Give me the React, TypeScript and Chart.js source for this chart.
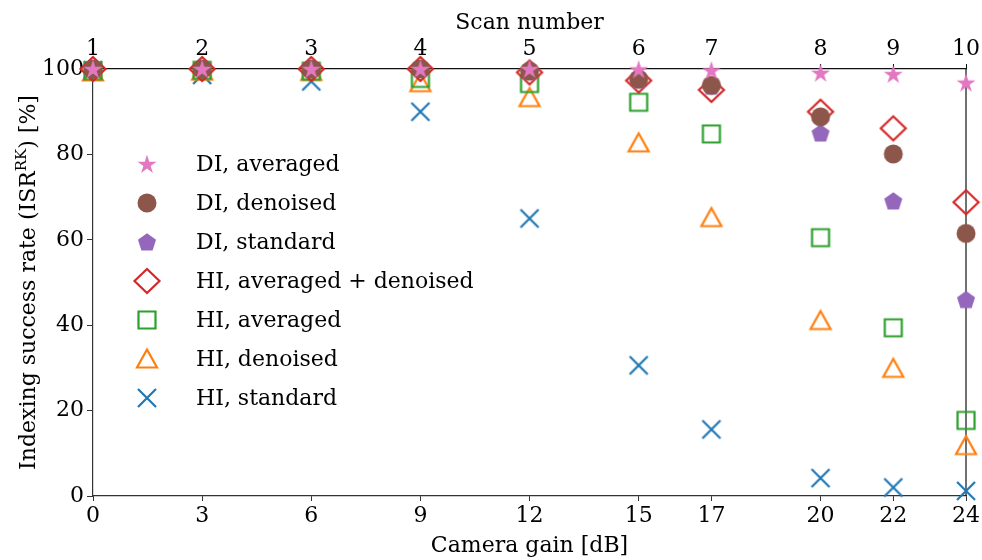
import React, { useEffect, useRef } from 'react';
import { Chart, registerables } from 'chart.js';

Chart.register(...registerables);

// ---- data ----
const cameraGain = [0, 3, 6, 9, 12, 15, 17, 20, 22, 24];
const scanNumbers = ['1', '2', '3', '4', '5', '6', '7', '8', '9', '10'];
const yTickValues = [0, 20, 40, 60, 80, 100];

const diAveraged = [100, 100, 100, 100, 100, 99.9, 99.7, 99.1, 98.8, 96.8];
const diDenoised = [100, 100, 100, 100, 99.5, 97.6, 96.2, 88.8, 80.1, 61.5];
const diStandard = [100, 100, 100, 100, 99.5, 97.5, 96.0, 85.0, 69.1, 46.0];
const hiAveragedDenoised = [100, 100, 100, 100, 99.2, 97.3, 95.1, 90.0, 86.1, 68.8];
const hiAveraged = [99.6, 99.7, 99.5, 97.8, 96.6, 92.2, 84.8, 60.5, 39.4, 17.7];
const hiDenoised = [99.3, 99.5, 99.4, 96.8, 93.3, 82.7, 65.2, 41.1, 29.9, 11.8];
const hiStandard = [99.7, 98.6, 97.1, 90.0, 65.0, 30.6, 15.6, 4.2, 2.0, 1.2];

const seriesLabels = [
  'DI, averaged',
  'DI, denoised',
  'DI, standard',
  'HI, averaged + denoised',
  'HI, averaged',
  'HI, denoised',
  'HI, standard',
];
const seriesValues = [diAveraged, diDenoised, diStandard, hiAveragedDenoised, hiAveraged, hiDenoised, hiStandard];
const seriesColors = ['#e377c2', '#8c564b', '#9467bd', '#d62728', '#2ca02c', '#ff7f0e', '#1f77b4'];
const seriesMarkers = ['star', 'circle', 'pentagon', 'diamond', 'square', 'triangle', 'cross'];

const FONT = '"DejaVu Serif", serif';
const FONT_SIZE = 22;

function makeMarker(kind: string, color: string): HTMLCanvasElement {
  const s = 30;
  const c = document.createElement('canvas');
  c.width = s;
  c.height = s;
  const ctx = c.getContext('2d') as CanvasRenderingContext2D;
  const cx = s / 2;
  const cy = s / 2;
  ctx.strokeStyle = color;
  ctx.fillStyle = color;
  ctx.lineWidth = 2.2;
  ctx.lineJoin = 'miter';
  ctx.beginPath();
  if (kind === 'star') {
    const R = 10;
    const r = R * 0.382;
    for (let i = 0; i < 10; i++) {
      const a = -Math.PI / 2 + (i * Math.PI) / 5;
      const rr = i % 2 === 0 ? R : r;
      const px = cx + rr * Math.cos(a);
      const py = cy + rr * Math.sin(a) + 0.8;
      if (i === 0) ctx.moveTo(px, py);
      else ctx.lineTo(px, py);
    }
    ctx.closePath();
    ctx.fill();
  } else if (kind === 'circle') {
    ctx.arc(cx, cy, 9.5, 0, Math.PI * 2);
    ctx.fill();
  } else if (kind === 'pentagon') {
    const R = 9.5;
    for (let i = 0; i < 5; i++) {
      const a = -Math.PI / 2 + (i * 2 * Math.PI) / 5;
      const px = cx + R * Math.cos(a);
      const py = cy + R * Math.sin(a) + 0.8;
      if (i === 0) ctx.moveTo(px, py);
      else ctx.lineTo(px, py);
    }
    ctx.closePath();
    ctx.fill();
  } else if (kind === 'diamond') {
    ctx.moveTo(cx, cy - 12);
    ctx.lineTo(cx + 12.5, cy);
    ctx.lineTo(cx, cy + 12);
    ctx.lineTo(cx - 12.5, cy);
    ctx.closePath();
    ctx.stroke();
  } else if (kind === 'square') {
    ctx.rect(cx - 8.5, cy - 8.5, 17, 17);
    ctx.stroke();
  } else if (kind === 'triangle') {
    ctx.moveTo(cx, cy - 9.5);
    ctx.lineTo(cx + 10, cy + 8.5);
    ctx.lineTo(cx - 10, cy + 8.5);
    ctx.closePath();
    ctx.stroke();
  } else {
    ctx.moveTo(cx - 9, cy - 9);
    ctx.lineTo(cx + 9, cy + 9);
    ctx.moveTo(cx + 9, cy - 9);
    ctx.lineTo(cx - 9, cy + 9);
    ctx.stroke();
  }
  return c;
}

const framePlugin = {
  id: 'frame',
  beforeDatasetsDraw(chart: any) {
    const { ctx, chartArea } = chart;
    ctx.save();
    ctx.strokeStyle = '#111';
    ctx.lineWidth = 1.2;
    ctx.beginPath();
    ctx.moveTo(chartArea.right, chartArea.top);
    ctx.lineTo(chartArea.right, chartArea.bottom);
    ctx.stroke();
    ctx.restore();
  },
};

const yTitlePlugin = {
  id: 'yTitle',
  afterDraw(chart: any) {
    const { ctx, chartArea } = chart;
    const main1 = 'Indexing success rate (ISR';
    const sup = 'RK';
    const main2 = ') [%]';
    ctx.save();
    ctx.fillStyle = '#000';
    ctx.textBaseline = 'alphabetic';
    ctx.font = `${FONT_SIZE}px ${FONT}`;
    const w1 = ctx.measureText(main1).width;
    const w3 = ctx.measureText(main2).width;
    ctx.font = `15px ${FONT}`;
    const w2 = ctx.measureText(sup).width;
    const total = w1 + w2 + w3;
    const cy = (chartArea.top + chartArea.bottom) / 2;
    ctx.translate(35, cy);
    ctx.rotate(-Math.PI / 2);
    let x = -total / 2;
    ctx.font = `${FONT_SIZE}px ${FONT}`;
    ctx.fillText(main1, x, 0);
    x += w1;
    ctx.font = `15px ${FONT}`;
    ctx.fillText(sup, x, -9);
    x += w2;
    ctx.font = `${FONT_SIZE}px ${FONT}`;
    ctx.fillText(main2, x, 0);
    ctx.restore();
  },
};

const legendPlugin = {
  id: 'insideLegend',
  afterDatasetsDraw(chart: any) {
    const { ctx } = chart;
    ctx.save();
    ctx.font = `${FONT_SIZE}px ${FONT}`;
    ctx.fillStyle = '#000';
    ctx.textBaseline = 'middle';
    ctx.textAlign = 'left';
    chart.data.datasets.forEach((ds: any, i: number) => {
      const y = 164 + i * 39;
      const img = ds.pointStyle as HTMLCanvasElement;
      ctx.drawImage(img, 147 - img.width / 2, y - img.height / 2);
      ctx.fillText(ds.label, 196, y + 1);
    });
    ctx.restore();
  },
};

export default function App() {
  const ref = useRef<HTMLCanvasElement | null>(null);

  useEffect(() => {
    document.body.style.margin = '0';
    const canvas = ref.current;
    if (!canvas) return;

    const datasets = seriesLabels.map((label, i) => ({
      label,
      data: cameraGain.map((g, j) => ({ x: g, y: seriesValues[i][j] })),
      pointStyle: makeMarker(seriesMarkers[i], seriesColors[i]),
      pointRadius: 10,
      borderColor: seriesColors[i],
      backgroundColor: seriesColors[i],
      showLine: false,
      clip: false as any,
    }));

    const tickFont = { family: FONT, size: FONT_SIZE };
    const axisColor = '#333';

    const chart = new Chart(canvas, {
      type: 'scatter',
      data: { datasets },
      plugins: [framePlugin, legendPlugin, yTitlePlugin],
      options: {
        animation: false,
        responsive: false,
        devicePixelRatio: 1,
        layout: { padding: { left: 0, right: 15, top: 0, bottom: 0 } },
        plugins: {
          legend: { display: false },
          tooltip: { enabled: false },
          title: { display: false },
        },
        scales: {
          x: {
            type: 'linear',
            position: 'bottom',
            min: 0,
            max: 24,
            afterBuildTicks: (scale: any) => {
              scale.ticks = cameraGain.map((v) => ({ value: v }));
            },
            afterFit: (scale: any) => {
              scale.height = 64;
            },
            ticks: {
              color: '#000',
              font: tickFont,
              padding: 2,
              maxRotation: 0,
              autoSkip: false,
              callback: (v: any) => String(v),
            },
            grid: { display: true, drawOnChartArea: false, drawTicks: true, tickLength: 5, color: axisColor },
            border: { display: true, color: axisColor, width: 1.2 },
            title: {
              display: true,
              text: 'Camera gain [dB]',
              color: '#000',
              font: tickFont,
              padding: { top: 0, bottom: 1 },
            },
          },
          xTop: {
            type: 'linear',
            position: 'top',
            min: 0,
            max: 24,
            afterBuildTicks: (scale: any) => {
              scale.ticks = cameraGain.map((v) => ({ value: v }));
            },
            afterFit: (scale: any) => {
              scale.height = 69;
            },
            ticks: {
              color: '#000',
              font: tickFont,
              padding: 2,
              maxRotation: 0,
              autoSkip: false,
              callback: (v: any) => scanNumbers[cameraGain.indexOf(Number(v))],
            },
            grid: { display: true, drawOnChartArea: false, drawTicks: true, tickLength: 5, color: '#111' },
            border: { display: true, color: '#111', width: 1.2 },
            title: {
              display: true,
              text: 'Scan number',
              color: '#000',
              font: tickFont,
              padding: { top: 10, bottom: 0 },
            },
          },
          y: {
            type: 'linear',
            position: 'left',
            min: 0,
            max: 100,
            afterBuildTicks: (scale: any) => {
              scale.ticks = yTickValues.map((v) => ({ value: v }));
            },
            afterFit: (scale: any) => {
              scale.width = 93;
            },
            ticks: {
              color: '#000',
              font: tickFont,
              padding: 3,
            },
            grid: { display: true, drawOnChartArea: false, drawTicks: true, tickLength: 6, color: axisColor },
            border: { display: true, color: axisColor, width: 1.2 },
          },
        },
      },
    } as any);

    return () => {
      chart.destroy();
    };
  }, []);

  return (
    <div style={{ width: 982, height: 560, background: '#fff' }}>
      <canvas ref={ref} width={982} height={560} style={{ display: 'block', width: 982, height: 560 }} />
    </div>
  );
}
